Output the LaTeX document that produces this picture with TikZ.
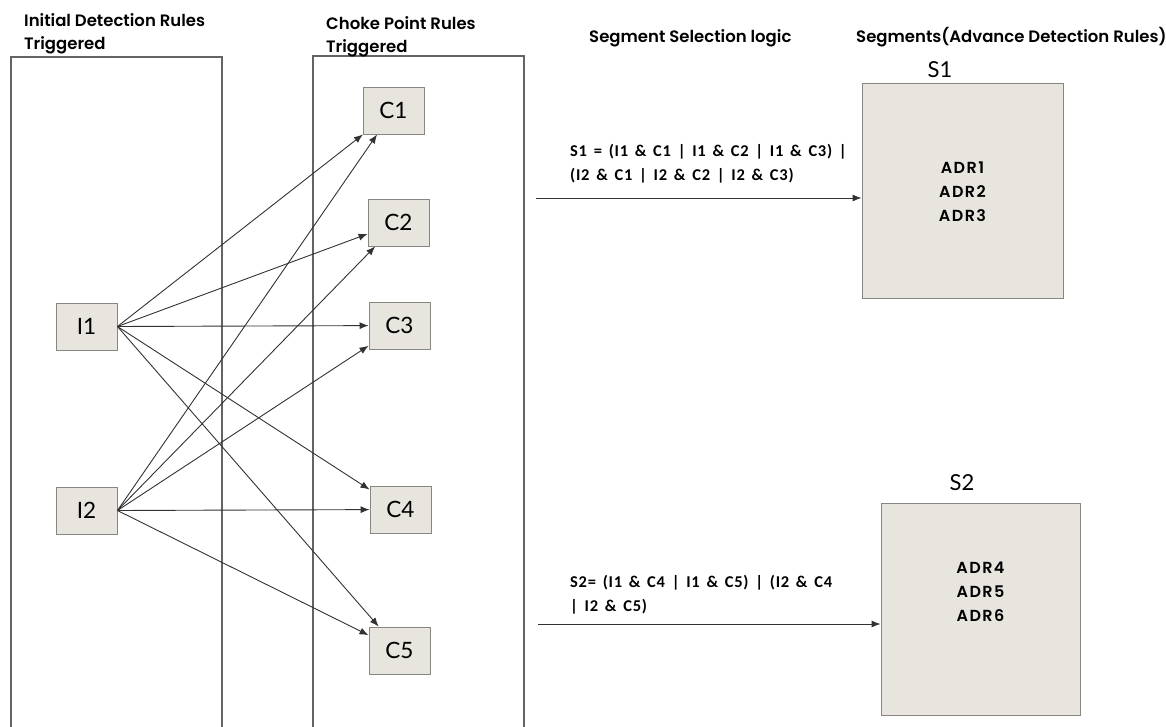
\documentclass[tikz,border=0pt]{standalone}
\usepackage{fontspec}
\setmainfont{Lato}
\newfontfamily\headfont{Poppins SemiBold}
\newfontfamily\adrfont{Poppins SemiBold}[LetterSpace=9]
\newfontfamily\formfont{Carlito}[LetterSpace=4.5,WordSpace=1.5]
\usetikzlibrary{arrows.meta}
\definecolor{boxfill}{RGB}{232,229,223}
\definecolor{boxline}{RGB}{135,135,130}
\definecolor{panelline}{RGB}{100,100,98}
\definecolor{arrowline}{RGB}{50,50,50}
\begin{document}
\begin{tikzpicture}[x=1pt,y=-1pt,
  panel/.style={draw=panelline, line width=1.6pt},
  rulebox/.style={draw=boxline, fill=boxfill, line width=0.9pt, minimum width=61pt, minimum height=47pt, inner sep=0pt, font=\fontsize{22.5}{24}\selectfont},
  segbox/.style={draw=boxline, fill=boxfill, line width=0.9pt, inner sep=0pt, align=center, font=\adrfont\fontsize{16}{24}\selectfont},
  header/.style={anchor=base west, inner sep=0pt, font=\headfont\fontsize{16.5}{18}\selectfont},
  seglabel/.style={inner sep=0pt, font=\fontsize{22}{24}\selectfont},
  formula/.style={anchor=west, inner sep=0pt, align=left, font=\formfont\bfseries\fontsize{16.5}{24}\selectfont},
  link/.style={draw=arrowline, line width=0.9pt, -{Latex[length=9pt,width=7pt]}}
]
\useasboundingbox (0,0) rectangle (1166,727);

% panels
\draw[panel] (11,740) |- (222,57) -- (222,740);
\draw[panel] (313,740) |- (524,56) -- (524,740);

% headers
\node[header] (h1a) at (24,27) {Initial Detection Rules};
\node[header] (h1b) at (24,50) {Triggered};
\node[header] (h2a) at (326,30) {Choke Point Rules};
\node[header] (h2b) at (326,53) {Triggered};
\node[header] (h3) at (589,43) {Segment Selection logic};
\node[header] (h4) at (856,43) {Segments(Advance Detection Rules)};

% rule boxes
\node[rulebox] (I1) at (86.5,326.5) {I1};
\node[rulebox] (I2) at (86.5,510.5) {I2};
\node[rulebox] (C1) at (393.5,110.5) {C1};
\node[rulebox] (C2) at (398.5,222.5) {C2};
\node[rulebox] (C3) at (399.5,325.5) {C3};
\node[rulebox] (C4) at (400.5,509.5) {C4};
\node[rulebox] (C5) at (399.5,650.5) {C5};

% segment boxes
\node[segbox, minimum width=201pt, minimum height=215pt] (S1) at (962.5,190.5) {};
\node[segbox, minimum width=199pt, minimum height=212pt] (S2) at (980.5,609) {};
\node[segbox, fill=none, draw=none] (S1t) at (962.5,192) {ADR1\\ADR2\\ADR3};
\node[segbox, fill=none, draw=none] (S2t) at (980.5,592) {ADR4\\ADR5\\ADR6};
\node[seglabel] (S1l) at (940,70) {S1};
\node[seglabel] (S2l) at (962,483) {S2};

% connectors
\foreach \c in {C1,C2,C3,C4,C5} {
  \draw[link] (I1.east) -- (\c);
  \draw[link] (I2.east) -- (\c);
}

% formulas
\node[formula] (f1) at (570,164) {S1 = (I1 \& C1 | I1 \& C2 | I1 \& C3) |\\(I2 \& C1 | I2 \& C2 | I2 \& C3)};
\node[formula] (f2) at (570,594.5) {S2= (I1 \& C4 | I1 \& C5) | (I2 \& C4\\| I2 \& C5)};

\coordinate (a1) at (536,198);
\coordinate (a2) at (538,624);
\draw[link] (a1) -- (a1 -| S1.west);
\draw[link] (a2) -- (a2 -| S2.west);
\end{tikzpicture}
\end{document}
